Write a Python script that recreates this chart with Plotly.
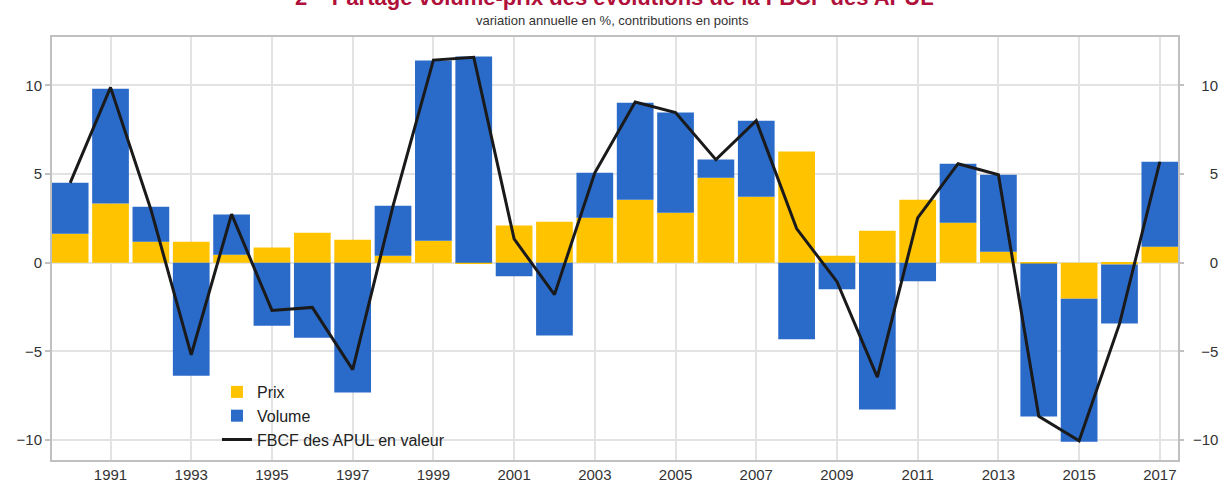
import plotly.graph_objects as go

years = list(range(1990, 2018))
prix = [1.63, 3.33, 1.18, 1.18, 0.45, 0.85, 1.69, 1.30, 0.39, 1.24, -0.05, 2.09, 2.31, 2.54,
        3.55, 2.82, 4.79, 3.72, 6.26, 0.39, 1.80, 3.55, 2.25, 0.62, -0.05, -2.03, -0.10, 0.90]
volume = [2.88, 6.48, 1.98, -6.37, 2.26, -3.55, -4.23, -7.31, 2.82, 10.15, 11.62, -0.77, -4.10, 2.53,
          5.47, 5.64, 1.02, 4.28, -4.32, -1.50, -8.27, -1.05, 3.33, 4.34, -8.62, -8.06, -3.33, 4.79]
fbcf = [4.50, 9.88, 3.00, -5.19, 2.74, -2.69, -2.52, -6.03, 3.20, 11.42, 11.58, 1.34, -1.80, 5.07,
        9.06, 8.46, 5.81, 8.00, 1.92, -1.07, -6.45, 2.52, 5.58, 4.96, -8.66, -10.03, -3.45, 5.69]
xtick_vals = list(range(1991, 2018, 2))
xtick_text = [str(v) for v in xtick_vals]
ytick_vals = [-10, -5, 0, 5, 10]
ytick_text_right = ["\u221210", "\u2007\u22125", "\u2007\u20070", "\u2007\u20075", "\u200710"]

title_text = "2 – Partage volume-prix des évolutions de la FBCF des APUL"
subtitle_text = "variation annuelle en %, contributions en points"
names = ["Prix", "Volume", "FBCF des APUL en valeur"]

FONT = "Liberation Sans, Arial, Helvetica, sans-serif"
YR = [-11.12, 12.72]
XR = [1989.55, 2017.45]

fig = go.Figure()
fig.add_trace(go.Bar(x=years, y=prix, name=names[0], marker=dict(color="#FFC300", line=dict(width=0))))
fig.add_trace(go.Bar(x=years, y=volume, name=names[1], marker=dict(color="#2A6AC8", line=dict(width=0))))
fig.add_trace(go.Scatter(x=years, y=fbcf, name=names[2], mode="lines",
                         line=dict(color="#1a1a1a", width=3)))
# invisible trace so that the right-hand axis is rendered
fig.add_trace(go.Scatter(x=[years[0]], y=[fbcf[0]], yaxis="y2", mode="markers",
                         marker=dict(opacity=0), showlegend=False, hoverinfo="skip"))

fig.update_layout(
    width=1220, height=483,
    margin=dict(l=52, r=42, t=37, b=23, autoexpand=False),
    paper_bgcolor="white", plot_bgcolor="white",
    barmode="relative", bargap=0.09,
    font=dict(family=FONT, size=15, color="#333333"),
    showlegend=True,
    legend=dict(x=0.1465, y=0.201, xanchor="left", yanchor="top",
                bgcolor="rgba(0,0,0,0)", font=dict(size=16, color="#222222"),
                traceorder="normal"),
    xaxis=dict(range=XR, tickmode="array", tickvals=xtick_vals, ticktext=xtick_text,
               automargin=False,
               showgrid=True, gridcolor="#e3e3e3", gridwidth=1.5,
               showline=True, linecolor="#c0c0c0", linewidth=2, mirror=True,
               ticks="", ticklen=0,
               zeroline=False, tickfont=dict(size=15, color="#333333")),
    yaxis=dict(range=YR, tickmode="array", tickvals=ytick_vals, automargin=False,
               showgrid=True, gridcolor="#e3e3e3", gridwidth=1.5,
               showline=True, linecolor="#c0c0c0", linewidth=2, mirror=True,
               ticks="outside", ticklen=5, tickcolor="#c0c0c0", tickwidth=1.5,
               zeroline=False, tickfont=dict(size=15, color="#333333")),
    yaxis2=dict(range=YR, tickmode="array", tickvals=ytick_vals, ticktext=ytick_text_right,
                overlaying="y", side="right", automargin=False, ticklabelstandoff=6,
                anchor="x", showgrid=False, zeroline=False, showline=False,
                ticks="outside", ticklen=5, tickcolor="#c0c0c0", tickwidth=1.5,
                tickfont=dict(size=15, color="#333333")),
)

fig.add_annotation(text=title_text, xref="paper", yref="paper", x=0.4995, y=(460 + 3) / 423,
                   xanchor="center", yanchor="middle", showarrow=False,
                   font=dict(family=FONT, size=22, color="#B0103A", weight="bold"))
fig.add_annotation(text=subtitle_text, xref="paper", yref="paper", x=0.4975, y=(460 - 20) / 423,
                   xanchor="center", yanchor="middle", showarrow=False,
                   font=dict(family=FONT, size=13, color="#333333"))

fig.write_html("out.html", config={"displayModeBar": False},
               post_script="document.body.style.margin='0';document.body.style.padding='0';")
